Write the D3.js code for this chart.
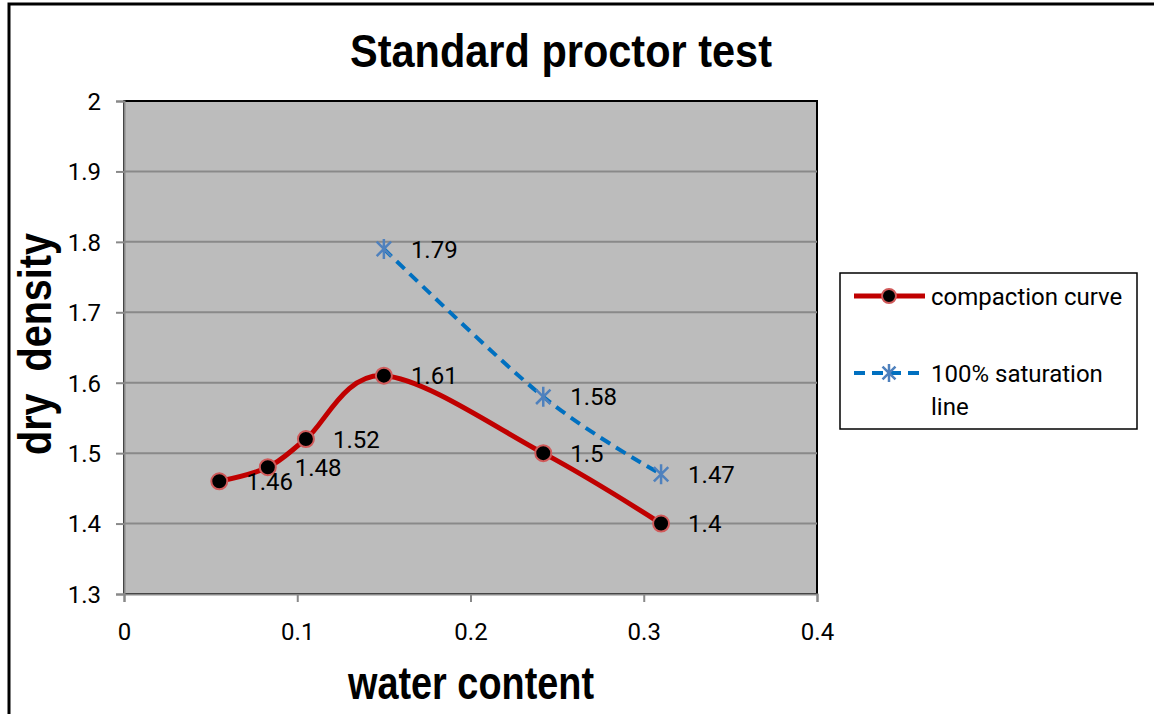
<!DOCTYPE html>
<html>
<head>
<meta charset="utf-8">
<script src="https://cdn.jsdelivr.net/npm/d3@7"></script>
<style>
  body { margin: 0; background: #fff; }
  svg { display: block; }
</style>
</head>
<body>
<svg id="chart"></svg>
<script>
// data
const compactionW = [0.055, 0.083, 0.105, 0.15, 0.242, 0.31];
const compactionD = [1.46, 1.48, 1.52, 1.61, 1.5, 1.4];
const saturationW = [0.15, 0.242, 0.31];
const saturationD = [1.79, 1.58, 1.47];
const xTicks = [0, 0.1, 0.2, 0.3, 0.4];
const yTicks = [1.3, 1.4, 1.5, 1.6, 1.7, 1.8, 1.9, 2];

const WIDTH = 1154;
const HEIGHT = 714;
const PLOT_LEFT = 124;
const PLOT_RIGHT = 817;
const PLOT_TOP = 101;
const PLOT_BOTTOM = 594;

const BOLD = '"Liberation Sans", Arial, sans-serif';
const BODY = 'Roboto, "DejaVu Sans", sans-serif';
const FS = 24;

const svg = d3.select('#chart')
  .attr('width', WIDTH)
  .attr('height', HEIGHT);

// outer chart border
svg.append('rect')
  .attr('x', 9).attr('y', 4)
  .attr('width', WIDTH + 20).attr('height', HEIGHT + 20)
  .attr('fill', '#fff')
  .attr('stroke', '#000')
  .attr('stroke-width', 3);

/* --SCALES-- */
const x = d3.scaleLinear().domain([0, 0.4]).range([PLOT_LEFT, PLOT_RIGHT]);
const y = d3.scaleLinear().domain([1.3, 2]).range([PLOT_BOTTOM, PLOT_TOP]);

// plot area
svg.append('rect')
  .attr('x', PLOT_LEFT).attr('y', PLOT_TOP)
  .attr('width', PLOT_RIGHT - PLOT_LEFT)
  .attr('height', PLOT_BOTTOM - PLOT_TOP)
  .attr('fill', '#bcbcbc')
  .attr('stroke', '#000')
  .attr('stroke-width', 2);

// gridlines
svg.append('g')
  .selectAll('line')
  .data(yTicks.slice(1, -1))
  .join('line')
  .attr('x1', PLOT_LEFT).attr('x2', PLOT_RIGHT)
  .attr('y1', d => y(d)).attr('y2', d => y(d))
  .attr('stroke', '#898989')
  .attr('stroke-width', 2);

/* --AXES-- */
const yAxis = svg.append('g')
  .attr('transform', `translate(${PLOT_LEFT},0)`)
  .call(d3.axisLeft(y).tickValues(yTicks).tickFormat(d3.format('')).tickSize(8).tickPadding(15));

const xAxis = svg.append('g')
  .attr('transform', `translate(0,${PLOT_BOTTOM})`)
  .call(d3.axisBottom(x).tickValues(xTicks).tickFormat(d3.format('')).tickSize(8).tickPadding(21));

[xAxis, yAxis].forEach(g => {
  g.select('.domain').attr('stroke', '#898989').attr('stroke-width', 2);
  g.selectAll('.tick line').attr('stroke', '#898989').attr('stroke-width', 2);
  g.selectAll('.tick text')
    .attr('font-family', BODY)
    .attr('font-size', FS)
    .attr('fill', '#000');
});
yAxis.selectAll('.tick text').attr('dy', '0.35em');

/* --TITLES-- (squeezed to look like a narrow bold face) */
svg.append('text')
  .attr('x', 350).attr('y', 67)
  .attr('font-family', BOLD)
  .attr('font-weight', 'bold')
  .attr('font-size', 47)
  .attr('textLength', 422)
  .attr('lengthAdjust', 'spacingAndGlyphs')
  .text('Standard proctor test');

svg.append('text')
  .attr('transform', 'translate(51,455) rotate(-90)')
  .attr('font-family', BOLD)
  .attr('font-weight', 'bold')
  .attr('font-size', 46)
  .attr('textLength', 222)
  .attr('lengthAdjust', 'spacingAndGlyphs')
  .style('white-space', 'pre')
  .text('dry  density');

svg.append('text')
  .attr('x', 348).attr('y', 699)
  .attr('font-family', BOLD)
  .attr('font-weight', 'bold')
  .attr('font-size', 47)
  .attr('textLength', 246)
  .attr('lengthAdjust', 'spacingAndGlyphs')
  .text('water content');

/* --SERIES-- */
const compaction = compactionW.map((w, i) => ({ w, d: compactionD[i] }));
const saturation = saturationW.map((w, i) => ({ w, d: saturationD[i] }));

const line = d3.line()
  .x(p => x(p.w))
  .y(p => y(p.d))
  .curve(d3.curveCatmullRom.alpha(0));

svg.append('path')
  .datum(saturation)
  .attr('d', line)
  .attr('fill', 'none')
  .attr('stroke', '#0070c0')
  .attr('stroke-width', 4)
  .attr('stroke-dasharray', '11 7');

svg.append('path')
  .datum(compaction)
  .attr('d', line)
  .attr('fill', 'none')
  .attr('stroke', '#c00000')
  .attr('stroke-width', 5);

function star(g, cx, cy, r) {
  const s = r * 0.72;
  g.append('path')
    .attr('d', `M${cx},${cy - r}L${cx},${cy + r}M${cx - s},${cy - s}L${cx + s},${cy + s}M${cx - s},${cy + s}L${cx + s},${cy - s}`)
    .attr('stroke', '#4f81bd')
    .attr('stroke-width', 2.5)
    .attr('fill', 'none');
}

const satG = svg.append('g');
saturation.forEach(p => star(satG, x(p.w), y(p.d), 10));

svg.append('g')
  .selectAll('circle')
  .data(compaction)
  .join('circle')
  .attr('cx', p => x(p.w))
  .attr('cy', p => y(p.d))
  .attr('r', 8)
  .attr('fill', '#000')
  .attr('stroke', '#d05a5a')
  .attr('stroke-width', 2);

// data labels
svg.append('g')
  .selectAll('text')
  .data(compaction.concat(saturation))
  .join('text')
  .attr('x', p => x(p.w) + 27)
  .attr('y', p => y(p.d))
  .attr('dy', '0.36em')
  .attr('font-family', BODY)
  .attr('font-size', FS)
  .text(p => p.d);

/* --LEGEND-- */
const legend = svg.append('g');
legend.append('rect')
  .attr('x', 840).attr('y', 273)
  .attr('width', 297).attr('height', 156)
  .attr('fill', '#fff')
  .attr('stroke', '#000')
  .attr('stroke-width', 1.5);

legend.append('line')
  .attr('x1', 854).attr('x2', 925)
  .attr('y1', 296).attr('y2', 296)
  .attr('stroke', '#c00000').attr('stroke-width', 5);
legend.append('circle')
  .attr('cx', 889).attr('cy', 296).attr('r', 7)
  .attr('fill', '#000').attr('stroke', '#d05a5a').attr('stroke-width', 2);
legend.append('text')
  .attr('x', 931).attr('y', 296).attr('dy', '0.36em')
  .attr('font-family', BODY).attr('font-size', FS)
  .text('compaction curve');

legend.append('line')
  .attr('x1', 854).attr('x2', 925)
  .attr('y1', 373).attr('y2', 373)
  .attr('stroke', '#0070c0').attr('stroke-width', 4)
  .attr('stroke-dasharray', '11 7');
star(legend, 889, 373, 9);
legend.append('text')
  .attr('x', 931).attr('y', 373).attr('dy', '0.36em')
  .attr('font-family', BODY).attr('font-size', FS)
  .text('100% saturation');
legend.append('text')
  .attr('x', 931).attr('y', 406).attr('dy', '0.36em')
  .attr('font-family', BODY).attr('font-size', FS)
  .text('line');
</script>
</body>
</html>
